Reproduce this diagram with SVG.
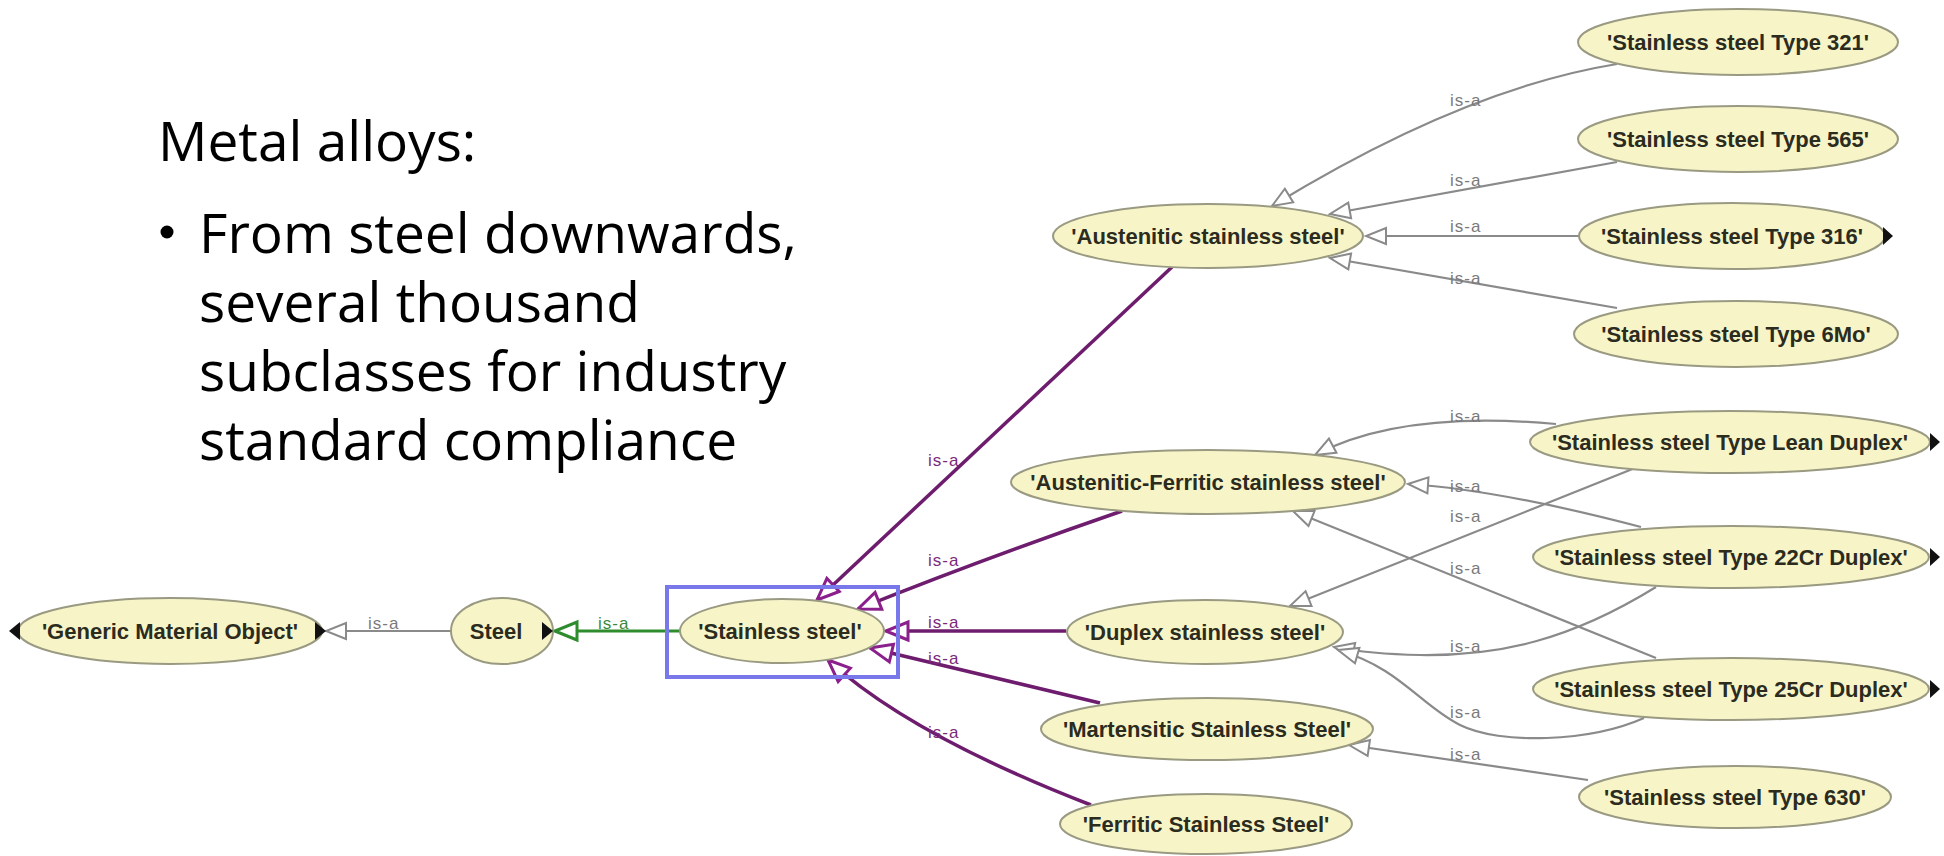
<svg xmlns="http://www.w3.org/2000/svg" width="1944" height="856" viewBox="0 0 1944 856">
<style>
.bg{fill:#ffffff}
.title{font-family:"Open Sans","Noto Sans",sans-serif;font-size:55px;fill:#000}
.node ellipse{fill:#f7f5c8;stroke:#9a9a82;stroke-width:2}
.node text{font-family:"Liberation Sans",Arial,sans-serif;font-weight:bold;font-size:22px;fill:#2b2b1e;text-anchor:middle;dominant-baseline:central}
.exp{fill:#111}
.eg{fill:none;stroke:#8a8a8a;stroke-width:2.2;marker-end:url(#aGrey)}
.ep{fill:none;stroke:#6e1c6e;stroke-width:3.5;marker-end:url(#aPurple)}
.egr{fill:none;stroke:#2e8b2e;stroke-width:3.2;marker-end:url(#aGreen)}
.lbl{font-family:"Liberation Sans",Arial,sans-serif;font-size:17px;letter-spacing:1px;fill:#7a7a7a}
.lblp{font-family:"Liberation Sans",Arial,sans-serif;font-size:17px;letter-spacing:1px;fill:#7a2a7a}
.lblg{font-family:"Liberation Sans",Arial,sans-serif;font-size:17px;letter-spacing:1px;fill:#3a8a3a}
.sel{fill:none;stroke:#7878ea;stroke-width:4}
</style>
<defs>
<marker id="aGrey" markerUnits="userSpaceOnUse" viewBox="0 0 24 20" refX="22" refY="10" markerWidth="24" markerHeight="20" orient="auto">
<path d="M2,2 L22,10 L2,18 Z" fill="#fff" stroke="#8a8a8a" stroke-width="2"/>
</marker>
<marker id="aPurple" markerUnits="userSpaceOnUse" viewBox="0 0 28 24" refX="25" refY="12" markerWidth="28" markerHeight="24" orient="auto">
<path d="M3,3 L25,12 L3,21 Z" fill="#fff" stroke="#8b1f8b" stroke-width="3"/>
</marker>
<marker id="aGreen" markerUnits="userSpaceOnUse" viewBox="0 0 28 24" refX="25" refY="12" markerWidth="28" markerHeight="24" orient="auto">
<path d="M3,3 L25,12 L3,21 Z" fill="#fff" stroke="#2e8b2e" stroke-width="3"/>
</marker>
</defs>
<rect class="bg" x="0" y="0" width="1944" height="856"/>

<g id="text-panel">
<text class="title" x="158" y="161">Metal alloys:</text>
<circle cx="167" cy="232" r="6.5" fill="#000"/>
<text class="title" x="199" y="253">From steel downwards,</text>
<text class="title" x="199" y="322">several thousand</text>
<text class="title" x="199" y="391">subclasses for industry</text>
<text class="title" x="199" y="460">standard compliance</text>
</g>

<g id="connectors">
<path class="eg" d="M451,631 L326,631"/>
<text class="lbl" x="368" y="629">is-a</text>
<path class="egr" d="M680,631 L555,631"/>
<text class="lblg" x="598" y="629">is-a</text>

<path class="ep" d="M1172,267 L817,600"/>
<text class="lblp" x="928" y="466">is-a</text>
<path class="ep" d="M1122,511 Q980,560 858,609"/>
<text class="lblp" x="928" y="566">is-a</text>
<path class="ep" d="M1066,631 L886,631"/>
<text class="lblp" x="928" y="628">is-a</text>
<path class="ep" d="M1100,703 L870,648"/>
<text class="lblp" x="928" y="664">is-a</text>
<path class="ep" d="M1091,805 Q910,735 828,660"/>
<text class="lblp" x="928" y="738">is-a</text>

<path class="eg" d="M1617,64 Q1463,89 1272,206"/>
<text class="lbl" x="1450" y="106">is-a</text>
<path class="eg" d="M1617,162 L1330,214"/>
<text class="lbl" x="1450" y="186">is-a</text>
<path class="eg" d="M1580,236 L1366,236"/>
<text class="lbl" x="1450" y="232">is-a</text>
<path class="eg" d="M1617,308 L1330,258"/>
<text class="lbl" x="1450" y="284">is-a</text>

<path class="eg" d="M1556,424 Q1400,410 1315,455"/>
<text class="lbl" x="1450" y="422">is-a</text>
<path class="eg" d="M1641,527 Q1500,490 1408,484"/>
<text class="lbl" x="1450" y="492">is-a</text>
<path class="eg" d="M1656,658 L1293,511"/>
<text class="lbl" x="1450" y="574">is-a</text>
<path class="eg" d="M1635,468 L1290,606"/>
<text class="lbl" x="1450" y="522">is-a</text>
<path class="eg" d="M1656,587 C1570,640 1500,656 1420,655 Q1370,654 1334,647"/>
<text class="lbl" x="1450" y="652">is-a</text>
<path class="eg" d="M1644,718 C1590,742 1500,745 1460,725 C1420,705 1400,668 1338,650"/>
<text class="lbl" x="1450" y="718">is-a</text>
<path class="eg" d="M1588,780 L1349,745"/>
<text class="lbl" x="1450" y="760">is-a</text>
</g>

<g id="generic" class="node">
<ellipse cx="170" cy="631" rx="152" ry="33"/>
<text x="170" y="631">'Generic Material Object'</text>
<polygon class="exp" points="9,631 20,622 20,640"/>
<polygon class="exp" points="315,622 315,640 326,631"/>
</g>
<g id="steel" class="node">
<ellipse cx="502" cy="631" rx="51" ry="33"/>
<text x="496" y="631">Steel</text>
<polygon class="exp" points="542,622 542,640 553,631"/>
</g>
<g id="stainless" class="node">
<ellipse cx="782" cy="631" rx="102" ry="32"/>
<text x="780" y="631">'Stainless steel'</text>
<rect class="sel" x="667" y="587" width="231" height="90"/>
</g>
<g id="austenitic" class="node">
<ellipse cx="1208" cy="236" rx="155" ry="32"/>
<text x="1208" y="236">'Austenitic stainless steel'</text>
</g>
<g id="aust-ferritic" class="node">
<ellipse cx="1208" cy="482" rx="197" ry="32"/>
<text x="1208" y="482">'Austenitic-Ferritic stainless steel'</text>
</g>
<g id="duplex" class="node">
<ellipse cx="1205" cy="632" rx="138" ry="32"/>
<text x="1205" y="632">'Duplex stainless steel'</text>
</g>
<g id="martensitic" class="node">
<ellipse cx="1207" cy="729" rx="166" ry="31"/>
<text x="1207" y="729">'Martensitic Stainless Steel'</text>
</g>
<g id="ferritic" class="node">
<ellipse cx="1206" cy="824" rx="146" ry="30"/>
<text x="1206" y="824">'Ferritic Stainless Steel'</text>
</g>
<g id="t321" class="node">
<ellipse cx="1738" cy="42" rx="160" ry="33"/>
<text x="1738" y="42">'Stainless steel Type 321'</text>
</g>
<g id="t565" class="node">
<ellipse cx="1738" cy="139" rx="160" ry="33"/>
<text x="1738" y="139">'Stainless steel Type 565'</text>
</g>
<g id="t316" class="node">
<ellipse cx="1732" cy="236" rx="153" ry="33"/>
<text x="1732" y="236">'Stainless steel Type 316'</text>
<polygon class="exp" points="1883,227 1883,245 1893,236"/>
</g>
<g id="t6mo" class="node">
<ellipse cx="1736" cy="334" rx="162" ry="33"/>
<text x="1736" y="334">'Stainless steel Type 6Mo'</text>
</g>
<g id="tlean" class="node">
<ellipse cx="1730" cy="442" rx="200" ry="31"/>
<text x="1730" y="442">'Stainless steel Type Lean Duplex'</text>
<polygon class="exp" points="1930,433 1930,451 1940,442"/>
</g>
<g id="t22cr" class="node">
<ellipse cx="1731" cy="557" rx="198" ry="31"/>
<text x="1731" y="557">'Stainless steel Type 22Cr Duplex'</text>
<polygon class="exp" points="1930,548 1930,566 1940,557"/>
</g>
<g id="t25cr" class="node">
<ellipse cx="1731" cy="689" rx="198" ry="31"/>
<text x="1731" y="689">'Stainless steel Type 25Cr Duplex'</text>
<polygon class="exp" points="1930,680 1930,698 1940,689"/>
</g>
<g id="t630" class="node">
<ellipse cx="1735" cy="797" rx="156" ry="31"/>
<text x="1735" y="797">'Stainless steel Type 630'</text>
</g>
</svg>
